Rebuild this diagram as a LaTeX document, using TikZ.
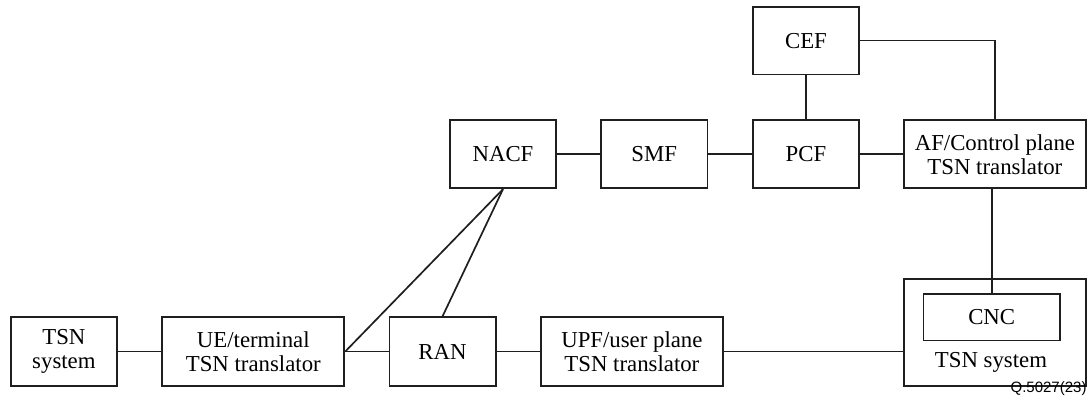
\documentclass[tikz,border=0pt]{standalone}
\usepackage{fontspec}
\setmainfont{Liberation Serif}
\newfontfamily\labelsans{Liberation Sans}
\begin{document}
\begin{tikzpicture}[x=1bp,y=-1bp,
  box/.style={draw=black!88, line width=1.7bp, inner sep=0pt, align=center,
    font=\rmfamily\fontsize{22.8bp}{24bp}\selectfont},
  conn/.style={draw=black!88, line width=1.7bp}]
\useasboundingbox (0,0) rectangle (1088,408);
% top row
\node[box, minimum width=106.3bp, minimum height=67.8bp] (cef) at (806,40.6) {CEF};
\node[box, minimum width=106.3bp, minimum height=68bp] (nacf) at (503,154.3) {NACF};
\node[box, minimum width=106.3bp, minimum height=68bp] (smf) at (654.2,154.3) {SMF};
\node[box, minimum width=106.3bp, minimum height=68bp] (pcf) at (806,154.3) {PCF};
\node[box, minimum width=181.7bp, minimum height=68bp] (af) at (994.9,154.3) {AF/Control plane\\TSN translator};
% bottom row
\node[box, minimum width=106.3bp, minimum height=68.7bp] (tsnl) at (63.9,351.6) {TSN\\system};
\node[box, minimum width=182bp, minimum height=68.7bp] (ue) at (253.3,351.6) {UE/terminal\\TSN translator};
\node[box, minimum width=106.3bp, minimum height=68.7bp] (ran) at (442.5,351.6) {RAN};
\node[box, minimum width=181.7bp, minimum height=68.7bp] (upf) at (631.9,351.6) {UPF/user plane\\TSN translator};
% right TSN system
\node[box, minimum width=181.7bp, minimum height=106.4bp] (tsnr) at (994.9,332.5) {};
\node[box, minimum width=136.7bp, minimum height=46.2bp] (cnc) at (991.7,317.4) {CNC};
\node[font=\rmfamily\fontsize{22.8bp}{24bp}\selectfont, inner sep=0pt] (tsnrlabel) at (991,362.5) {TSN system};
\node[font=\labelsans\fontsize{15bp}{16bp}\selectfont, inner sep=0pt, anchor=east] (figid) at (1086.7,388.5) {Q.5027(23)};
% connectors
\draw[conn] (nacf) -- (smf);
\draw[conn] (smf) -- (pcf);
\draw[conn] (pcf) -- (af);
\draw[conn] (cef) -- (pcf);
\draw[conn] (cef.east) -| (af.north);
\draw[conn] (cnc.north |- af.south) -- (cnc.north);
\draw[conn] (tsnl) -- (ue);
\draw[conn] (ue) -- (ran);
\draw[conn] (ran) -- (upf);
\draw[conn] (upf.east) -- (upf.east -| tsnr.west);
\draw[conn] (nacf.south) -- (ue.east);
\draw[conn] (nacf.south) -- (ran.north);
\end{tikzpicture}
\end{document}
